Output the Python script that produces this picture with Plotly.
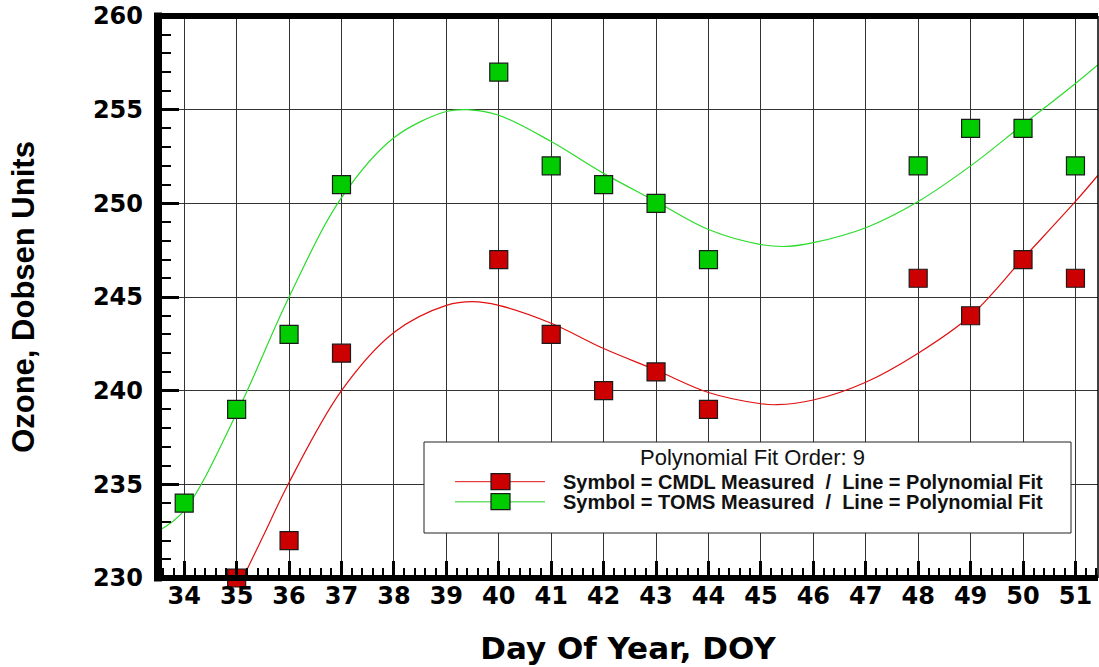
import plotly.graph_objects as go

# ---------------- data ----------------
cmdl_days = [35, 36, 37, 40, 41, 42, 43, 44, 48, 49, 50, 51]
cmdl_ozone = [230, 232, 242, 247, 243, 240, 241, 239, 246, 244, 247, 246]

toms_days = [34, 35, 36, 37, 40, 41, 42, 43, 44, 48, 49, 50, 51]
toms_ozone = [234, 239, 243, 251, 257, 252, 251, 250, 247, 252, 254, 254, 252]

# polynomial fit curves
cmdl_fit_x = [35.0, 35.5, 36, 37, 38, 39, 39.5, 40, 41, 42, 43, 44, 45, 45.3, 46, 47, 48, 49, 50, 51, 51.43]
cmdl_fit_y = [229.3, 232.2, 235.1, 240.0, 243.1, 244.55, 244.75, 244.55, 243.6, 242.25, 241.1, 239.9,
              239.3, 239.25, 239.5, 240.45, 242.0, 244.0, 247.05, 250.1, 251.5]

toms_fit_x = [33.5, 34, 35, 36, 37, 38, 39, 39.4, 40, 41, 42, 43, 44, 45, 45.5, 46, 47, 48, 49, 50, 51, 51.43]
toms_fit_y = [232.5, 233.6, 238.8, 245.0, 250.3, 253.5, 254.9, 255.0, 254.7, 253.3, 251.6, 250.1, 248.6,
              247.8, 247.7, 247.9, 248.7, 250.1, 252.0, 254.2, 256.4, 257.4]

x_tick_vals = list(range(34, 52))
x_tick_text = [str(v) for v in x_tick_vals]
y_tick_vals = [230, 235, 240, 245, 250, 255, 260]
y_tick_text = [str(v) for v in y_tick_vals]

fit_order = 9
legend_title = f"Polynomial Fit Order: {fit_order}"
nb = "\u00a0"
legend_labels = [
    f"Symbol = CMDL Measured {nb}/{nb} Line = Polynomial Fit",
    f"Symbol = TOMS Measured {nb}/{nb} Line = Polynomial Fit",
]

RED = "#CC0000"
GREEN = "#00CC00"
RED_LINE = "#E01010"
GREEN_LINE = "#2ADC2A"

# ---------------- figure ----------------
fig = go.Figure()

fig.add_trace(go.Scatter(x=toms_fit_x, y=toms_fit_y, mode="lines",
                         line=dict(color=GREEN_LINE, width=1.2, shape="spline"),
                         hoverinfo="skip", showlegend=False))
fig.add_trace(go.Scatter(x=cmdl_fit_x, y=cmdl_fit_y, mode="lines",
                         line=dict(color=RED_LINE, width=1.2, shape="spline"),
                         hoverinfo="skip", showlegend=False))
fig.add_trace(go.Scatter(x=toms_days, y=toms_ozone, mode="markers", name="TOMS",
                         marker=dict(symbol="square", size=18, color=GREEN,
                                     line=dict(color="#1a1a1a", width=1.2)),
                         cliponaxis=False, showlegend=False))
fig.add_trace(go.Scatter(x=cmdl_days, y=cmdl_ozone, mode="markers", name="CMDL",
                         marker=dict(symbol="square", size=18, color=RED,
                                     line=dict(color="#1a1a1a", width=1.2)),
                         cliponaxis=False, showlegend=False))

W, H = 1099, 667
ML, MR, MT, MB = 158, 1, 16, 89
PW, PH = W - ML - MR, H - MT - MB


def px_x(p):
    return (p - ML) / PW


def px_y(p):
    return (H - MB - p) / PH


shapes = []
# frame
shapes.append(dict(type="line", xref="paper", yref="paper", x0=0, x1=0,
                   y0=-3.5 / PH, y1=1 + 3.5 / PH, line=dict(color="black", width=8), layer="above"))
shapes.append(dict(type="line", xref="paper", yref="paper", x0=-4 / PW, x1=1,
                   y0=1, y1=1, line=dict(color="black", width=6), layer="above"))
shapes.append(dict(type="line", xref="paper", yref="paper", x0=-4 / PW, x1=1,
                   y0=0, y1=0, line=dict(color="black", width=6), layer="above"))
shapes.append(dict(type="line", xref="paper", yref="paper", x0=1, x1=1,
                   y0=0, y1=1, line=dict(color="black", width=1.5), layer="above"))

# legend box
shapes.append(dict(type="rect", xref="paper", yref="paper",
                   x0=px_x(424), x1=px_x(1071), y0=px_y(533), y1=px_y(442),
                   fillcolor="white", line=dict(color="#222", width=1), layer="above"))
legend_rows = [(481.7, RED_LINE, RED, 1.0), (501.7, "#6EE06E", GREEN, 1.6)]
for (cy, lc, fc, lw) in legend_rows:
    shapes.append(dict(type="line", xref="paper", yref="paper",
                       x0=px_x(455), x1=px_x(545), y0=px_y(cy), y1=px_y(cy),
                       line=dict(color=lc, width=lw), layer="above"))
    shapes.append(dict(type="rect", xref="paper", yref="paper",
                       x0=px_x(491), x1=px_x(510), y0=px_y(cy + 8), y1=px_y(cy - 8),
                       fillcolor=fc, line=dict(color="#1a1a1a", width=1.2), layer="above"))

annotations = [dict(xref="paper", yref="paper", x=px_x(752), y=px_y(457), text=legend_title,
                    showarrow=False, xanchor="center", yanchor="middle",
                    font=dict(family="Liberation Sans", size=22, color="#111"))]
for (cy, _, _, _), lab in zip(legend_rows, legend_labels):
    annotations.append(dict(xref="paper", yref="paper", x=px_x(561), y=px_y(cy), text=lab,
                            showarrow=False, xanchor="left", yanchor="middle",
                            font=dict(family="Liberation Sans", size=20, color="#111", weight="bold")))

tick_font = dict(family="DejaVu Sans", size=24, color="black", weight="bold")

fig.update_layout(
    width=W, height=H,
    margin=dict(l=ML, r=MR, t=MT, b=MB),
    paper_bgcolor="white", plot_bgcolor="white",
    shapes=shapes, annotations=annotations,
    showlegend=False,
    xaxis=dict(range=[33.5, 51.43], tickmode="array", tickvals=x_tick_vals, ticktext=x_tick_text,
               showgrid=True, gridcolor="#333", gridwidth=1, zeroline=False, showline=False,
               ticks="inside", ticklen=17, tickwidth=3, tickcolor="black",
               minor=dict(tickmode="linear", tick0=0, dtick=0.2, ticks="inside", ticklen=10,
                          tickwidth=1.5, tickcolor="black", showgrid=False),
               tickfont=tick_font, ticklabelstandoff=1,
               title=dict(text="Day Of Year, DOY", standoff=28,
                          font=dict(family="DejaVu Sans", size=31, color="black", weight="bold"))),
    yaxis=dict(range=[230, 260], tickmode="array", tickvals=y_tick_vals, ticktext=y_tick_text,
               showgrid=True, gridcolor="#333", gridwidth=1, zeroline=False, showline=False,
               ticks="inside", ticklen=21, tickwidth=3, tickcolor="black",
               minor=dict(tickmode="linear", tick0=0, dtick=1, ticks="inside", ticklen=13,
                          tickwidth=1.5, tickcolor="black", showgrid=False),
               tickfont=tick_font, ticklabelstandoff=14,
               title=dict(text="Ozone, Dobsen Units", standoff=49,
                          font=dict(family="Liberation Sans", size=31, color="black", weight="bold"))),
)

fig.write_html("out.html", config={"displayModeBar": False},
               post_script="document.body.style.margin='0';")
